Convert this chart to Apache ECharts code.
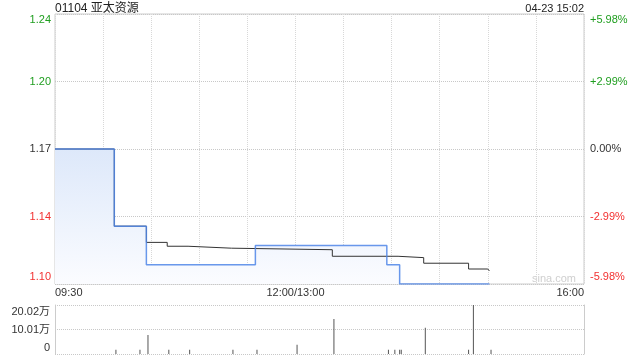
<!DOCTYPE html>
<html><head><meta charset="utf-8">
<script src="https://cdn.jsdelivr.net/npm/echarts@6/dist/echarts.min.js"></script>
<style>html,body{margin:0;padding:0;background:#fff}#c{width:640px;height:360px}</style>
</head><body><div id="c"></div>
<script>
// ---- data ----
const titleText = '01104 亚太资源';
const stampText = '04-23 15:02';
const prevClose = 1.17;
const pctMax = 5.98;
const pctStep = 2.99;
const xTickTimes = ['09:30', '12:00', '16:00'];
const xTickLabels = ['09:30', '12:00/13:00', '16:00'];
const volMax = 200200;
const volStep = 100100;
const volTickLabels = ['0', '10.01万', '20.02万'];

const priceTimes  = ['09:30', '10:07', '10:27', '11:35', '13:57', '14:05', '15:01'];
const priceValues = [1.17, 1.13, 1.11, 1.12, 1.11, 1.10, 1.10];

const avgTimes  = ['09:30', '10:07', '10:27', '10:40', '10:53', '11:20', '13:23', '14:04', '14:20', '14:48', '15:00', '15:01'];
const avgValues = [1.17, 1.13, 1.1216, 1.1196, 1.1186, 1.1178, 1.1144, 1.1137, 1.1108, 1.1078, 1.1068, 1.1068];

const volTimes  = ['10:08', '10:23', '10:28', '10:41', '10:54', '11:21', '11:36', '13:01', '13:24', '13:58', '14:02', '14:05', '14:06', '14:21', '14:48', '14:51', '15:02'];
const volValues = [17000, 17000, 78000, 17000, 17000, 17000, 17000, 38000, 143000, 17000, 17000, 17000, 17000, 107000, 17000, 200200, 17000];

// ---- helpers ----
function toIdx(t) {
  const p = t.split(':').map(Number);
  const m = p[0] * 60 + p[1];
  return m <= 720 ? m - 570 : m - 780 + 150;
}
const FONT = '"Liberation Sans", Arial, Helvetica, "Noto Sans CJK SC", sans-serif';
const GREEN = '#1f9e1f', RED = '#f23030', DARK = '#333';
const FS = 11;
const base = { fontSize: FS, fontFamily: FONT };
const rich = {
  g:  Object.assign({ color: GREEN }, base),
  gt: Object.assign({ color: GREEN, padding: [12, 0, 0, 0] }, base),
  k:  Object.assign({ color: DARK }, base),
  r:  Object.assign({ color: RED }, base),
  rb: Object.assign({ color: RED, padding: [0, 0, 14, 0] }, base),
  t:  Object.assign({ color: DARK, padding: [13, 0, 0, 0] }, base),
  b:  Object.assign({ color: DARK, padding: [0, 0, 12, 0] }, base),
  n:  Object.assign({ color: DARK }, base)
};
function tok(v) {
  if (Math.abs(v) < 1e-6) return 'k';
  if (v > 0) return Math.abs(v - pctMax) < 1e-6 ? 'gt' : 'g';
  return Math.abs(v + pctMax) < 1e-6 ? 'rb' : 'r';
}
const pLo = prevClose * (1 - pctMax / 100);
const pHi = prevClose * (1 + pctMax / 100);

const xTickIdx = xTickTimes.map(toIdx);
const priceData = priceTimes.map((t, i) => [toIdx(t), priceValues[i]]);
const avgData = avgTimes.map((t, i) => [toIdx(t), avgValues[i]]);
const volData = volTimes.map((t, i) => [toIdx(t), volValues[i]]);

const chart = echarts.init(document.getElementById('c'), null, { renderer: 'canvas' });
chart.setOption({
  animation: false,
  textStyle: { fontFamily: FONT },
  graphic: [
    { type: 'text', left: 55, top: 3, style: { text: titleText, fill: '#222', font: '12px ' + FONT } },
    { type: 'text', right: 56, top: 3, style: { text: stampText, fill: '#222', font: '11px ' + FONT } },
    { type: 'text', left: 532, top: 273, z: 0, style: { text: 'sina.com', fill: '#cfcfcf', font: '11px ' + FONT } }
  ],
  grid: [
    { left: 55, right: 56, top: 14, height: 270, show: true, borderColor: '#ccc', borderWidth: 1 },
    { left: 55, right: 56, top: 305, height: 49, show: false }
  ],
  xAxis: [
    {
      type: 'value', gridIndex: 0, min: 0, max: 330, interval: 30,
      axisLine: { show: false }, axisTick: { show: false },
      splitLine: { show: true, lineStyle: { color: '#d8d8d8', type: 'dotted' } },
      axisLabel: {
        margin: 3, color: DARK, fontSize: FS, fontFamily: FONT,
        alignMinLabel: 'left', alignMaxLabel: 'right',
        formatter: v => { const k = xTickIdx.findIndex(x => Math.abs(x - v) < 1e-6); return k >= 0 ? xTickLabels[k] : ''; }
      }
    },
    {
      type: 'value', gridIndex: 1, min: 0, max: 330, interval: 30, show: false
    }
  ],
  yAxis: [
    { // left price labels positioned by percent ticks
      type: 'value', gridIndex: 0, position: 'left', min: -pctMax, max: pctMax, interval: pctStep,
      axisLine: { show: false }, axisTick: { show: false }, splitLine: { show: false },
      axisLabel: { margin: 4, rich: rich, formatter: v => '{' + tok(v) + '|' + (prevClose * (1 + v / 100)).toFixed(2) + '}' }
    },
    { // right percent labels
      type: 'value', gridIndex: 0, position: 'right', min: -pctMax, max: pctMax, interval: pctStep,
      axisLine: { show: false }, axisTick: { show: false },
      splitLine: { show: true, lineStyle: { color: '#c8c8c8', type: 'dotted' } },
      axisLabel: {
        margin: 6, rich: rich,
        formatter: v => {
          const a = Math.abs(v) < 1e-6 ? 0 : v;
          const s = (a > 0 ? '+' : a < 0 ? '-' : '') + Math.abs(a).toFixed(2) + '%';
          return '{' + tok(a) + '|' + s + '}';
        }
      }
    },
    { // hidden price axis for series
      type: 'value', gridIndex: 0, min: pLo, max: pHi, show: false
    },
    { // volume left
      type: 'value', gridIndex: 1, min: 0, max: volMax, interval: volStep,
      axisLine: { show: true, lineStyle: { color: '#ccc' } }, axisTick: { show: false },
      splitLine: { show: true, lineStyle: { color: '#c8c8c8', type: 'dotted' } },
      axisLabel: {
        margin: 5, rich: rich,
        formatter: v => {
          const k = Math.round(v / volStep);
          const s = volTickLabels[k];
          return '{' + (k === 0 ? 'b' : k === 2 ? 't' : 'n') + '|' + s + '}';
        }
      }
    },
    { // volume right border
      type: 'value', gridIndex: 1, position: 'right', min: 0, max: volMax, interval: volStep,
      axisLine: { show: true, lineStyle: { color: '#ccc' } }, axisTick: { show: false },
      axisLabel: { show: false }, splitLine: { show: false }
    }
  ],
  series: [
    { // price area (under everything)
      type: 'line', name: 'priceArea', xAxisIndex: 0, yAxisIndex: 2, data: priceData, step: 'end',
      symbol: 'none', z: 2, silent: true,
      lineStyle: { width: 0, opacity: 0 },
      areaStyle: {
        opacity: 1,
        color: new echarts.graphic.LinearGradient(0, 0, 0, 1, [
          { offset: 0, color: '#dde8fa' }, { offset: 1, color: '#fbfcff' }
        ])
      }
    },
    {
      type: 'line', name: 'avg', xAxisIndex: 0, yAxisIndex: 2, data: avgData, step: 'end',
      symbol: 'none', z: 3,
      lineStyle: { color: '#333', width: 1 }
    },
    {
      type: 'line', name: 'price', xAxisIndex: 0, yAxisIndex: 2, data: priceData, step: 'end',
      symbol: 'none', z: 4,
      lineStyle: { color: '#4f86e8', width: 1.5, opacity: 0.85 }
    },
    {
      type: 'bar', name: 'vol', xAxisIndex: 1, yAxisIndex: 3, data: volData, barWidth: 1,
      itemStyle: { color: '#555' }
    }
  ]
});
</script>
</body></html>
